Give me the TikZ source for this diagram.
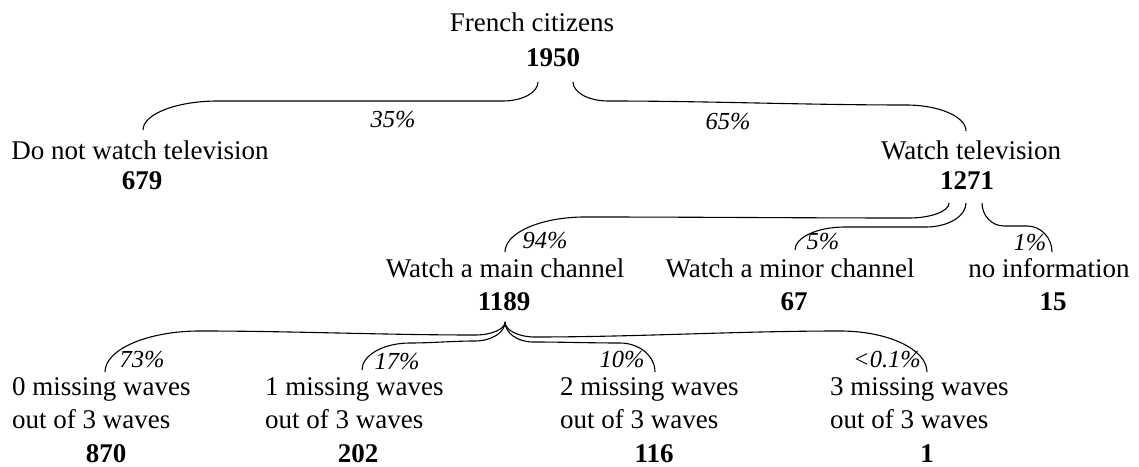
\documentclass[tikz,border=0pt]{standalone}
\usepackage{fontspec}
\setmainfont{Liberation Serif}
\usetikzlibrary{calc}
\tikzset{
  txt/.style={font=\fontsize{27}{33.5}\selectfont, inner sep=0pt, anchor=base},
  num/.style={font=\fontsize{27}{33.5}\selectfont\bfseries, inner sep=0pt, anchor=base},
  pct/.style={font=\fontsize{24.5}{29}\selectfont\itshape, inner sep=0pt},
  conn/.style={line width=1.1pt, black}
}
% #1 start, #2 end, #3 sign, #4 r1, #5 level1, #6 r2, #7 level2
\newcommand\bracepath[7]{%
  \draw[conn] let \p1=#1, \p2=#2 in
    (\p1) .. controls (\x1,{\y1-0.552*(\y1-#5pt)}) and ({\x1+(#3)*0.448*#4pt},#5pt) .. ({\x1+(#3)*#4pt},#5pt)
    .. controls ({(2*(\x1+(#3)*#4pt)+(\x2-(#3)*#6pt))/3},#5pt) and ({((\x1+(#3)*#4pt)+2*(\x2-(#3)*#6pt))/3},#7pt) .. ({\x2-(#3)*#6pt},#7pt)
    .. controls ({\x2-(#3)*0.448*#6pt},#7pt) and (\x2,{\y2+0.552*(#7pt-\y2)}) .. (\p2);
}
\begin{document}
\begin{tikzpicture}[x=1pt,y=1pt]
\useasboundingbox (0,0) rectangle (1139,466);
% level 0
\node[txt] (root) at (532,434) {French citizens};
\node[num] (rootn) at (553,399) {1950};
% level 1
\node[txt] (notv) at (140,306) {Do not watch television};
\node[num] (notvn) at (142,276) {679};
\node[txt] (tv) at (971,306) {Watch television};
\node[num] (tvn) at (967,276) {1271};
% level 2
\node[txt] (main) at (505,189) {Watch a main channel};
\node[num] (mainn) at (504,156) {1189};
\node[txt] (minor) at (790,189) {Watch a minor channel};
\node[num] (minorn) at (794,156) {67};
\node[txt] (noinf) at (1049,189) {no information};
\node[num] (noinfn) at (1053,156) {15};
% level 3
\node[txt, anchor=base west] (w0) at (12,71) {0 missing waves};
\node[txt, anchor=base west] (w0b) at (12,38) {out of 3 waves};
\node[num] (w0n) at (106,4) {870};
\node[txt, anchor=base west] (w1) at (265,71) {1 missing waves};
\node[txt, anchor=base west] (w1b) at (265,38) {out of 3 waves};
\node[num] (w1n) at (358,4) {202};
\node[txt, anchor=base west] (w2) at (560,71) {2 missing waves};
\node[txt, anchor=base west] (w2b) at (560,38) {out of 3 waves};
\node[num] (w2n) at (654,4) {116};
\node[txt, anchor=base west] (w3) at (830,71) {3 missing waves};
\node[txt, anchor=base west] (w3b) at (830,38) {out of 3 waves};
\node[num] (w3n) at (927,4) {1};
% percentages
\node[pct] (p35) at (393,346) {35\%};
\node[pct] (p65) at (728,344) {65\%};
\node[pct] (p94) at (545,225) {94\%};
\node[pct] (p5) at (823,224) {5\%};
\node[pct] (p1) at (1030,223) {1\%};
\node[pct] (p73) at (142,106) {73\%};
\node[pct] (p17) at (397,104) {17\%};
\node[pct] (p10) at (622,106) {10\%};
\node[pct] (p01) at (887,106) {<0.1\%};
% connectors
\bracepath{([shift={(-15,-15)}]rootn.base)}{([shift={(3,30)}]notv.base)}{-1}{35}{365}{75}{365}
\bracepath{([shift={(20,-15)}]rootn.base)}{([shift={(-5,29)}]tv.base)}{1}{35}{365}{60}{361}
\bracepath{([shift={(-18,-13)}]tvn.base)}{([shift={(0,25)}]main.base)}{-1}{40}{248}{80}{249}
\bracepath{([shift={(-1,-13)}]tvn.base)}{([shift={(5,27)}]minor.base)}{-1}{40}{239}{50}{239}
\bracepath{([shift={(15,-13)}]tvn.base)}{([shift={(3,25)}]noinf.base)}{1}{22}{240}{25}{240}
\bracepath{([shift={(1,-12)}]mainn.base)}{([shift={(93,23)}]w0.base west)}{-1}{30}{131}{95}{135}
\bracepath{([shift={(1,-12)}]mainn.base)}{([shift={(97,25)}]w1.base west)}{-1}{30}{125}{48}{123}
\bracepath{([shift={(1,-12)}]mainn.base)}{([shift={(95,23)}]w2.base west)}{1}{28}{124}{35}{123}
\bracepath{([shift={(1,-12)}]mainn.base)}{([shift={(97,23)}]w3.base west)}{1}{30}{129}{87}{135}
\end{tikzpicture}
\end{document}
